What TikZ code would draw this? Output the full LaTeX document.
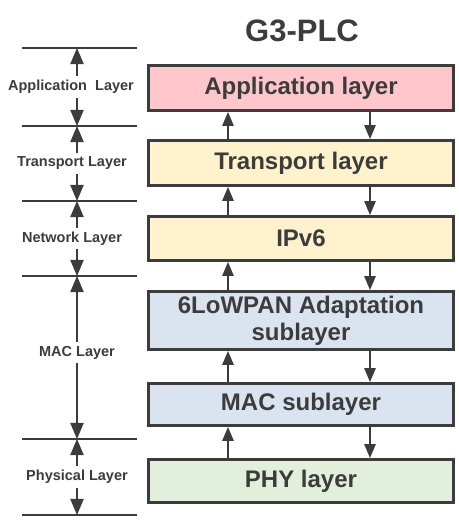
\documentclass[tikz,border=0pt]{standalone}
\usepackage{fontspec}
\setmainfont{Liberation Sans}
\usepackage{tikz}
\usetikzlibrary{positioning, arrows}
\definecolor{inkgray}{RGB}{60,60,60}
\definecolor{appred}{RGB}{255,199,204}
\definecolor{netyellow}{RGB}{255,242,204}
\definecolor{macblue}{RGB}{218,227,240}
\definecolor{phygreen}{RGB}{226,239,218}
\tikzstyle{layerbox} = [rectangle, minimum width=305pt, minimum height=45pt, text centered, align=center, draw=inkgray, line width=3pt, text=inkgray, font=\fontsize{24}{27}\selectfont\bfseries]
\tikzstyle{arrow} = [line width=2.3pt, draw=inkgray, ->, >=triangle 45]
\tikzstyle{span} = [line width=2.8pt, draw=inkgray, <->, >=triangle 45]
\tikzstyle{spanlabel} = [fill=white, text=inkgray, inner sep=4pt, font=\fontsize{14.5}{17}\selectfont\bfseries]

\begin{document}
\begin{tikzpicture}[x=1pt, y=1pt]
        \useasboundingbox (0,0) rectangle (458,527);
        \node (title) [text=inkgray, font=\fontsize{31}{34}\selectfont\bfseries] at (302,496.5) {G3-PLC};

        \node (app) [layerbox, fill=appred] at (301,439) {Application layer};
        \node (trans) [layerbox, fill=netyellow, below=27pt of app] {Transport layer};
        \node (ip) [layerbox, fill=netyellow, minimum height=44pt, below=28pt of trans] {IPv6};
        \node (lowpan) [layerbox, fill=macblue, minimum height=58pt, below=28pt of ip] {6LoWPAN Adaptation\\sublayer};
        \node (mac) [layerbox, fill=macblue, minimum height=42pt, below=31pt of lowpan] {MAC sublayer};
        \node (phy) [layerbox, fill=phygreen, minimum height=43pt, below=31pt of mac] {PHY layer};

        \draw [arrow] ([xshift=-73pt]trans.north) -- ([xshift=-73pt]app.south);
        \draw [arrow] ([xshift=69pt]app.south) -- ([xshift=69pt]trans.north);
        \draw [arrow] ([xshift=-73pt]ip.north) -- ([xshift=-73pt]trans.south);
        \draw [arrow] ([xshift=69pt]trans.south) -- ([xshift=69pt]ip.north);
        \draw [arrow] ([xshift=-73pt]lowpan.north) -- ([xshift=-73pt]ip.south);
        \draw [arrow] ([xshift=69pt]ip.south) -- ([xshift=69pt]lowpan.north);
        \draw [arrow] ([xshift=-73pt]mac.north) -- ([xshift=-73pt]lowpan.south);
        \draw [arrow] ([xshift=69pt]lowpan.south) -- ([xshift=69pt]mac.north);
        \draw [arrow] ([xshift=-73pt]phy.north) -- ([xshift=-73pt]mac.south);
        \draw [arrow] ([xshift=69pt]mac.south) -- ([xshift=69pt]phy.north);

        % OSI layer ranges on the left
        \coordinate (l0) at (77,479);
        \coordinate (l1) at (77,401);
        \coordinate (l2) at (77,326);
        \coordinate (l3) at (77,251);
        \coordinate (l4) at (77,88);
        \coordinate (l5) at (77,12);
        \foreach \c in {l0,l1,l2,l3,l4,l5}
            \draw [line width=2.8pt, inkgray] ([xshift=-55pt]\c) -- ([xshift=60pt]\c);

        \draw [span] (l0) -- node[spanlabel, xshift=-6pt] {Application\ \ Layer} (l1);
        \draw [span] (l1) -- node[spanlabel, xshift=-5pt] {Transport Layer} (l2);
        \draw [span] (l2) -- node[spanlabel, xshift=-5pt] {Network Layer} (l3);
        \draw [span] (l3) -- node[spanlabel, yshift=5pt] {MAC Layer} (l4);
        \draw [span] (l4) -- node[spanlabel] {Physical Layer} (l5);
\end{tikzpicture}
\end{document}
